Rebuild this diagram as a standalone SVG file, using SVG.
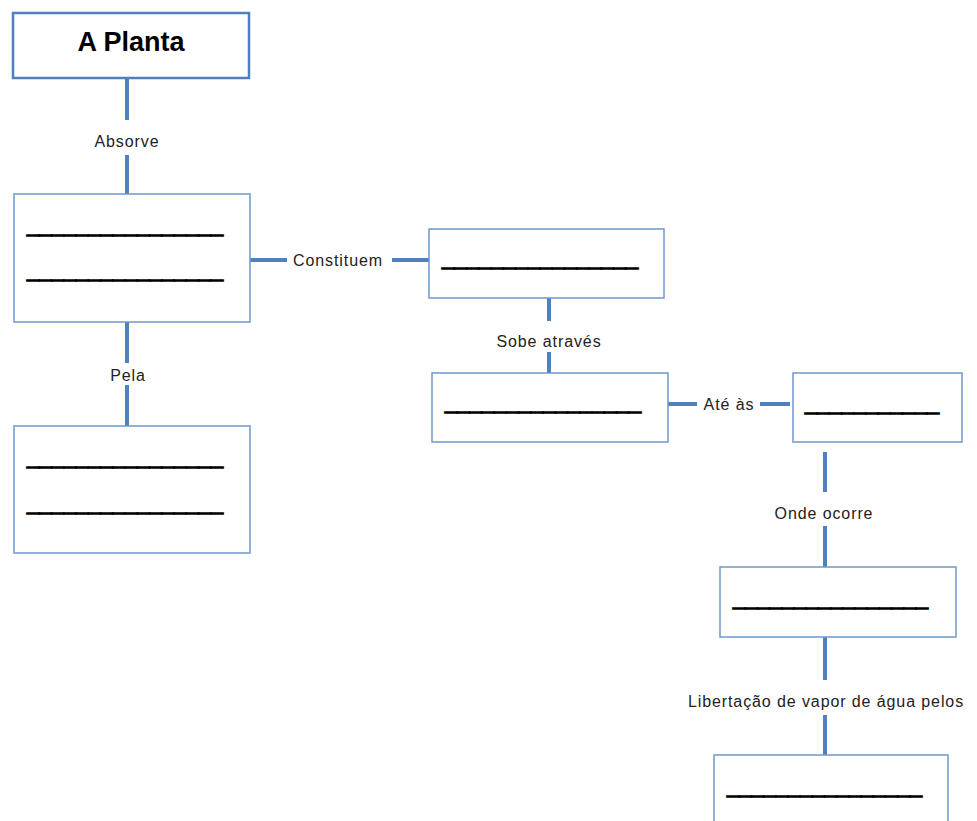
<svg xmlns="http://www.w3.org/2000/svg" width="977" height="821" viewBox="0 0 977 821">
<style>
.box{fill:#fff;stroke:#7098cc;stroke-width:1.5}
.main{fill:#fff;stroke:#4f7fbd;stroke-width:2.5}
.conn{stroke:#4f81bd;stroke-width:4;fill:none}
.lbl{font-family:"Liberation Sans",Arial,sans-serif;font-size:16px;letter-spacing:0.9px;fill:#222;text-anchor:middle}
.blank{font-family:"Liberation Sans",Arial,sans-serif;font-size:24px;font-weight:bold;fill:#000;stroke:#000;stroke-width:1.6}
.title{font-family:"Liberation Sans",Arial,sans-serif;font-size:27px;font-weight:bold;fill:#000;text-anchor:middle}
</style>
<rect width="977" height="821" fill="#fff"/>
<g id="connectors">
<path class="conn" d="M127 78V120M127 155V194"/>
<path class="conn" d="M250 260H287M392 260H429"/>
<path class="conn" d="M549 298V321M549 352V373"/>
<path class="conn" d="M668 404H697M760 404H790"/>
<path class="conn" d="M825 452V492M825 526V567"/>
<path class="conn" d="M825 637V680M825 715V755"/>
<path class="conn" d="M127 322V363M127 385V426"/>
<text class="lbl" x="127" y="147">Absorve</text>
<text class="lbl" x="338" y="266">Constituem</text>
<text class="lbl" x="549" y="347">Sobe através</text>
<text class="lbl" x="729" y="410">Até às</text>
<text class="lbl" x="824" y="519">Onde ocorre</text>
<text class="lbl" x="826" y="707">Libertação de vapor de água pelos</text>
<text class="lbl" x="128" y="381">Pela</text>
</g>
<g id="planta">
<rect class="main" x="13" y="13" width="236" height="65"/>
<text class="title" x="131" y="51">A Planta</text>
</g>
<g id="n1">
<rect class="box" x="14" y="194" width="236" height="128"/>
<text class="blank" x="27" y="233" textLength="196" lengthAdjust="spacingAndGlyphs">________________</text>
<text class="blank" x="27" y="278" textLength="196" lengthAdjust="spacingAndGlyphs">________________</text>
</g>
<g id="n2">
<rect class="box" x="429" y="229" width="235" height="69"/>
<text class="blank" x="442" y="266" textLength="196" lengthAdjust="spacingAndGlyphs">________________</text>
</g>
<g id="n3">
<rect class="box" x="432" y="373" width="236" height="69"/>
<text class="blank" x="445" y="410" textLength="196" lengthAdjust="spacingAndGlyphs">________________</text>
</g>
<g id="n4">
<rect class="box" x="793" y="373" width="169" height="69"/>
<text class="blank" x="805" y="411" textLength="134" lengthAdjust="spacingAndGlyphs">___________</text>
</g>
<g id="n5">
<rect class="box" x="720" y="567" width="236" height="70"/>
<text class="blank" x="733" y="606" textLength="195" lengthAdjust="spacingAndGlyphs">________________</text>
</g>
<g id="n6">
<rect class="box" x="714" y="755" width="234" height="70"/>
<text class="blank" x="727" y="794" textLength="195" lengthAdjust="spacingAndGlyphs">________________</text>
</g>
<g id="n7">
<rect class="box" x="14" y="426" width="236" height="127"/>
<text class="blank" x="27" y="465" textLength="196" lengthAdjust="spacingAndGlyphs">________________</text>
<text class="blank" x="27" y="511" textLength="196" lengthAdjust="spacingAndGlyphs">________________</text>
</g>
</svg>
